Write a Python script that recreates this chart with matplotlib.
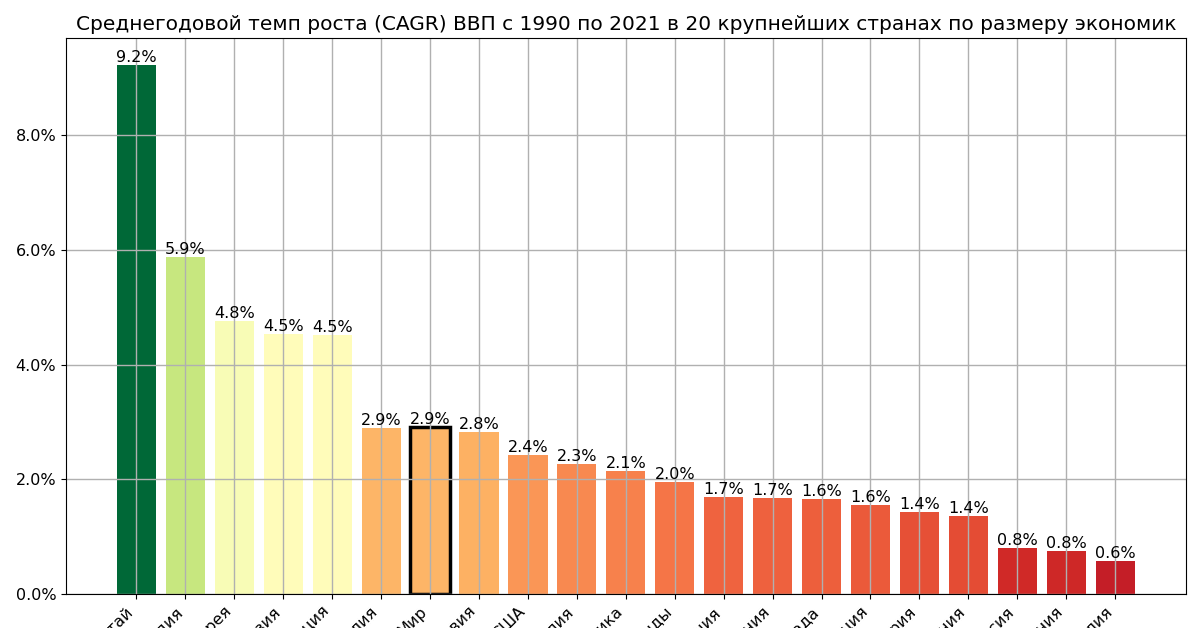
import numpy as np
import matplotlib.pyplot as plt
from matplotlib import cm
from matplotlib.colors import Normalize
from matplotlib.ticker import PercentFormatter

# DATA

countries = [
    "Китай", "Индия", "Южная Корея", "Индонезия", "Турция", "Австралия",
    "Мир", "Саудовская Аравия", "США", "Бразилия", "Мексика", "Нидерланды",
    "Великобритания", "Испания", "Канада", "Франция", "Швейцария",
    "Германия", "Россия", "Япония", "Италия"
]

cagr = [
    9.23, 5.87, 4.76, 4.54, 4.51, 2.89,
    2.91, 2.82, 2.42, 2.27, 2.14, 1.96,
    1.70, 1.68, 1.65, 1.56, 1.43,
    1.37, 0.80, 0.76, 0.58
]

highlight = "Мир"

TITLE = "Среднегодовой темп роста (CAGR) ВВП с 1990 по 2021 в 20 крупнейших странах по размеру экономик"

# PLOT

fig = plt.figure(figsize=(12, 6.28), dpi=100)
ax = fig.add_axes([0.055, 0.054, 0.933, 0.885])

norm = Normalize(vmin=0, vmax=max(cagr))
colors = [cm.RdYlGn(norm(v)) for v in cagr]

x = np.arange(len(countries))
bars = ax.bar(x, cagr, color=colors, width=0.8)

# world average gets a black outline
for b, name in zip(bars, countries):
    if name == highlight:
        b.set_edgecolor("black")
        b.set_linewidth(2.5)

for xi, v in zip(x, cagr):
    ax.text(xi, v, f"{v:.1f}%", ha="center", va="bottom", fontsize=11.5)

ax.set_xticks(x)
ax.set_xticklabels(countries, rotation=45, ha="right", fontsize=11.5)
ax.yaxis.set_major_formatter(PercentFormatter(decimals=1))
ax.tick_params(axis="y", labelsize=11.5)
ax.set_yticks([0, 2, 4, 6, 8])
ax.grid(True, color="#b0b0b0", linewidth=1)
ax.set_title(TITLE, fontsize=14.5)

fig.savefig("out.png", dpi=100)
